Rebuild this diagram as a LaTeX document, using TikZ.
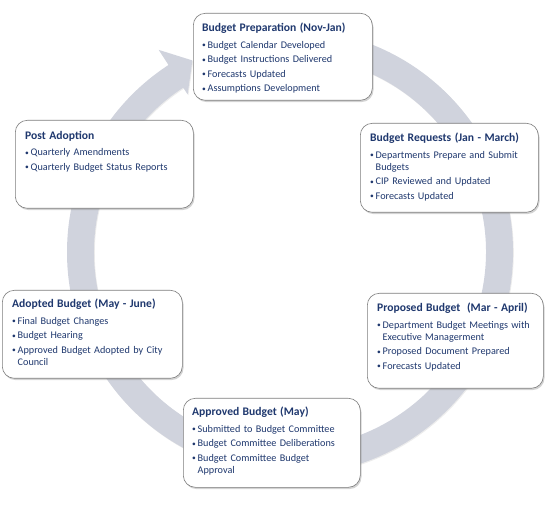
\documentclass[tikz,border=0pt]{standalone}
\usepackage{fontspec}
\setmainfont{Carlito}
\usetikzlibrary{calc,shadows}
\definecolor{txtblue}{RGB}{31,56,110}
\definecolor{ringgray}{RGB}{208,211,221}
\definecolor{cardline}{RGB}{125,125,125}
\newcommand{\ttl}[1]{{\bfseries\fontsize{11.6}{13}\selectfont #1\par}\vskip2pt}
\newcommand{\itm}[1]{\par\vskip2.5pt{\leftskip=5.5pt\noindent
  \llap{\makebox[5.5pt][l]{\raisebox{0.7pt}{\fontsize{7.5}{8}\selectfont\textbullet}}}#1\par}}
\tikzset{
  card/.style={draw=cardline, line width=0.6pt, fill=white, rounded corners=12pt,
    anchor=north west, inner sep=0pt,
    drop shadow={shadow xshift=1.2pt, shadow yshift=-1.8pt, opacity=0.35}},
  cardtext/.style={anchor=north west, inner sep=0pt, text width=166pt, align=left,
    text=txtblue, font=\fontsize{10.2}{12}\selectfont}
}
\begin{document}
\begin{tikzpicture}[x=1pt, y=-1pt, line join=round]
\def\rin{196} \def\rout{223}
\useasboundingbox (0,0) rectangle (550,508);
\coordinate (ctr) at (290,252);
% the cycle ring
\fill[ringgray, drop shadow={shadow xshift=0.8pt, shadow yshift=-1pt, opacity=0.15}]
  ($(ctr)+(-85:\rout)$) arc[start angle=-85, end angle=237, radius=\rout]
  -- ($(ctr)+(237:241)$) -- ($(ctr)+(243:215)$) -- ($(ctr)+(237:188)$)
  -- ($(ctr)+(237:\rin)$) arc[start angle=237, end angle=-85, radius=\rin] -- cycle;
% the six steps
\node[card, minimum width=179pt, minimum height=87pt] (prep) at (193,13) {};
\node[cardtext] (prep-txt) at ([xshift=9pt,yshift=-10pt]prep.north west)
  {\ttl{Budget Preparation (Nov-Jan)}\itm{Budget Calendar Developed}\itm{Budget Instructions Delivered}\itm{Forecasts Updated}\itm{Assumptions Development}};
\node[card, minimum width=178pt, minimum height=89pt] (req) at (360,123) {};
\node[cardtext] (req-txt) at ([xshift=10pt,yshift=-10pt]req.north west)
  {\ttl{Budget Requests (Jan - March)}\itm{Departments Prepare and Submit\\ Budgets}\itm{CIP Reviewed and Updated}\itm{Forecasts Updated}};
\node[card, minimum width=176pt, minimum height=95pt] (prop) at (367,293) {};
\node[cardtext] (prop-txt) at ([xshift=10pt,yshift=-10pt]prop.north west)
  {\ttl{Proposed Budget\ \ (Mar - April)}\itm{Department Budget Meetings with\\ Executive Managerment}\itm{Proposed Document Prepared}\itm{Forecasts Updated}};
\node[card, minimum width=177pt, minimum height=89pt] (appr) at (183,398) {};
\node[cardtext] (appr-txt) at ([xshift=9pt,yshift=-9pt]appr.north west)
  {\ttl{Approved Budget (May)}\itm{Submitted to Budget Committee}\itm{Budget Committee Deliberations}\itm{Budget Committee Budget\\ Approval}};
\node[card, minimum width=180pt, minimum height=88pt] (adopt) at (2,290) {};
\node[cardtext] (adopt-txt) at ([xshift=10pt,yshift=-9pt]adopt.north west)
  {\ttl{Adopted Budget (May - June)}\itm{Final Budget Changes}\itm{Budget Hearing}\itm{Approved Budget Adopted by City\\ Council}};
\node[card, minimum width=178pt, minimum height=88pt] (post) at (15,120) {};
\node[cardtext] (post-txt) at ([xshift=10pt,yshift=-11pt]post.north west)
  {\ttl{Post Adoption}\itm{Quarterly Amendments}\itm{Quarterly Budget Status Reports}};
\end{tikzpicture}
\end{document}
